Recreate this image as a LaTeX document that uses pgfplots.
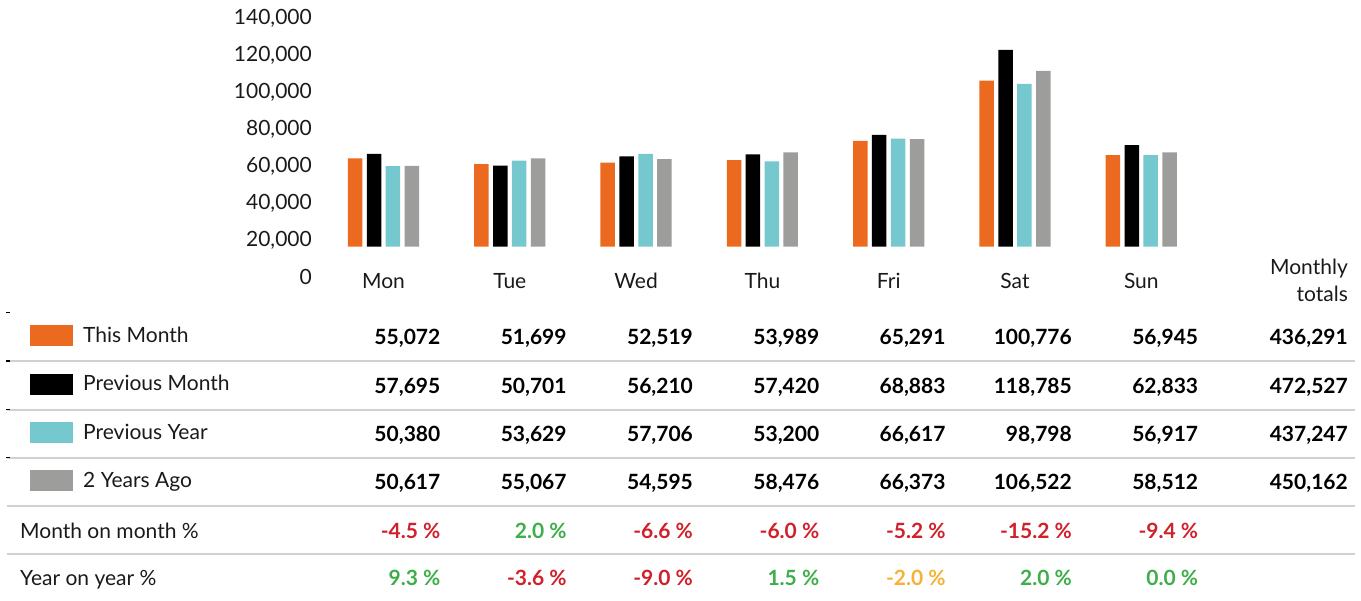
\documentclass[border=0pt]{standalone}
\usepackage{pgfplots}
\pgfplotsset{compat=1.18}
\usepackage{fontspec}
\setmainfont{Lato}
\definecolor{cOrange}{HTML}{EC6A1F}
\definecolor{cTeal}{HTML}{74C8CE}
\definecolor{cGray}{HTML}{9D9D9B}
\definecolor{cRed}{HTML}{D0202A}
\definecolor{cGreen}{HTML}{3DAE49}
\definecolor{cAmber}{HTML}{F6B234}
\definecolor{cLine}{HTML}{D0D0D0}
\definecolor{cText}{HTML}{1A1A1A}
\newcommand{\tf}{\fontsize{21}{25}\selectfont}
\begin{document}
\begin{tikzpicture}[x=1pt,y=1pt]
\useasboundingbox (0,0) rectangle (1361,601);
% y tick labels
\begin{axis}[at={(312pt,324.3pt)}, anchor=south west, scale only axis,
  width=10pt, height=258pt, xmin=0, xmax=1, ymin=0, ymax=140000,
  axis line style={draw=none}, major tick length=0pt, xtick=\empty,
  scaled y ticks=false,
  ytick={0,20000,40000,60000,80000,100000,120000,140000},
  yticklabels={0,{20,000},{40,000},{60,000},{80,000},{100,000},{120,000},{140,000}},
  yticklabel style={anchor=east, inner sep=0pt, font=\tf, text=cText}]
\end{axis}
% bars
\begin{axis}[at={(130.9pt,354.3pt)}, anchor=south west, scale only axis,
  width=1199.85pt, height=232.8pt, xmin=-2, xmax=7.5, ymin=3060, ymax=140000,
  hide axis, ybar=4.4pt, bar width=14.5pt]
\addplot[fill=cOrange, draw=none] coordinates {(0,55072) (1,51699) (2,52519) (3,53989) (4,65291) (5,100776) (6,56945)};
\addplot[fill=black, draw=none] coordinates {(0,57695) (1,50701) (2,56210) (3,57420) (4,68883) (5,118785) (6,62833)};
\addplot[fill=cTeal, draw=none] coordinates {(0,50380) (1,53629) (2,57706) (3,53200) (4,66617) (5,98798) (6,56917)};
\addplot[fill=cGray, draw=none] coordinates {(0,50617) (1,55067) (2,54595) (3,58476) (4,66373) (5,106522) (6,58512)};
\end{axis}
\begin{scope}[shift={(0,601)}, y=-1pt]
% day names
\foreach \d [count=\i from 0] in {Mon,Tue,Wed,Thu,Fri,Sat,Sun}
  \node[anchor=base, inner sep=0pt, font=\tf, text=cText] at (383.5+126.3*\i, 288.3) {\d};
\node[anchor=base east, inner sep=0pt, font=\tf, text=cText] at (1348, 275) {Monthly};
\node[anchor=base east, inner sep=0pt, font=\tf, text=cText] at (1348, 301.7) {totals};
% lines
\foreach \yy in {361,409.7,457.7,506,554}
  \draw[cLine, line width=2pt] (7,\yy) -- (1355,\yy);
\foreach \yy in {312.7,361.2,409.7,457.7}
  \fill[black] (6,\yy-0.8) rectangle (9.5,\yy+0.8);
% swatches
\fill[cOrange] (30,325.3) rectangle (72.7,346);
\fill[black] (30,374) rectangle (72.7,394.7);
\fill[cTeal] (30,422.3) rectangle (72.7,443);
\fill[cGray] (30,470) rectangle (72.7,491);
% row labels
\node[anchor=base west, inner sep=0pt, font=\tf, text=cText] at (83,342.7) {This Month};
\node[anchor=base west, inner sep=0pt, font=\tf, text=cText] at (83,390.9) {Previous Month};
\node[anchor=base west, inner sep=0pt, font=\tf, text=cText] at (83,439.3) {Previous Year};
\node[anchor=base west, inner sep=0pt, font=\tf, text=cText] at (83,487.6) {2 Years Ago};
\node[anchor=base west, inner sep=0pt, font=\tf, text=cText] at (20,538.3) {Month on month \%};
\node[anchor=base west, inner sep=0pt, font=\tf, text=cText] at (20,586) {Year on year \%};
% values
\foreach \v [count=\i from 0] in {55{,}072,51{,}699,52{,}519,53{,}989,65{,}291,100{,}776,56{,}945,436{,}291}
  \node[anchor=base east, inner sep=0pt, font=\tf\bfseries] at ({\i<7 ? 440.5+126.3*\i : 1348}, 345) {\v};
\foreach \v [count=\i from 0] in {57{,}695,50{,}701,56{,}210,57{,}420,68{,}883,118{,}785,62{,}833,472{,}527}
  \node[anchor=base east, inner sep=0pt, font=\tf\bfseries] at ({\i<7 ? 440.5+126.3*\i : 1348}, 393.3) {\v};
\foreach \v [count=\i from 0] in {50{,}380,53{,}629,57{,}706,53{,}200,66{,}617,98{,}798,56{,}917,437{,}247}
  \node[anchor=base east, inner sep=0pt, font=\tf\bfseries] at ({\i<7 ? 440.5+126.3*\i : 1348}, 441.7) {\v};
\foreach \v [count=\i from 0] in {50{,}617,55{,}067,54{,}595,58{,}476,66{,}373,106{,}522,58{,}512,450{,}162}
  \node[anchor=base east, inner sep=0pt, font=\tf\bfseries] at ({\i<7 ? 440.5+126.3*\i : 1348}, 490) {\v};
\foreach \v/\c [count=\i from 0] in {-4.5/cRed,2.0/cGreen,-6.6/cRed,-6.0/cRed,-5.2/cRed,-15.2/cRed,-9.4/cRed}
  \node[anchor=base east, inner sep=0pt, font=\tf\bfseries, text=\c] at (440.5+126.3*\i, 538.3) {\v\ \%};
\foreach \v/\c [count=\i from 0] in {9.3/cGreen,-3.6/cRed,-9.0/cRed,1.5/cGreen,-2.0/cAmber,2.0/cGreen,0.0/cGreen}
  \node[anchor=base east, inner sep=0pt, font=\tf\bfseries, text=\c] at (440.5+126.3*\i, 586) {\v\ \%};
\end{scope}
\end{tikzpicture}
\end{document}
